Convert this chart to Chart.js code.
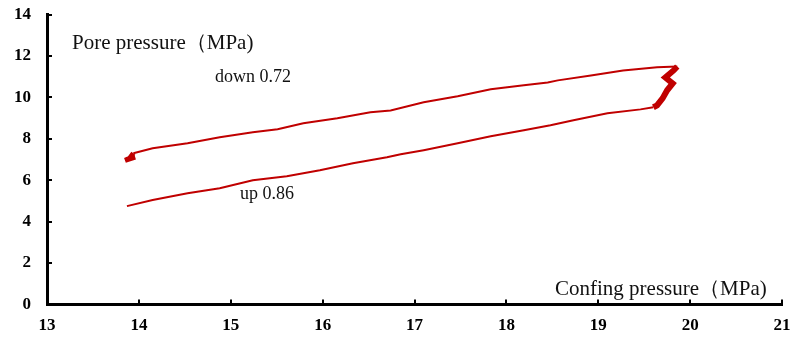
<!DOCTYPE html>
<html>
<head>
<meta charset="utf-8">
<script src="https://cdn.jsdelivr.net/npm/chart.js@4/dist/chart.umd.min.js"></script>
<style>
  html, body { margin: 0; padding: 0; background: #fff; }
  #wrap { width: 793px; height: 338px; }
</style>
</head>
<body>
<div id="wrap"><canvas id="c" width="793" height="338"></canvas></div>
<script>
// loading branch (up)
const upX = [13.87, 14.15, 14.53, 14.88, 15.24, 15.61, 15.97, 16.33, 16.70, 16.85, 17.10, 17.47, 17.83, 18.19, 18.48, 18.73, 19.10, 19.46, 19.60];
const upY = [4.75, 5.04, 5.37, 5.61, 6.00, 6.19, 6.48, 6.82, 7.11, 7.25, 7.45, 7.78, 8.12, 8.41, 8.65, 8.89, 9.23, 9.42, 9.52];

// jagged turn at max confining pressure
const turnX = [19.60, 19.64, 19.70, 19.75, 19.81, 19.73, 19.82, 19.86];
const turnY = [9.52, 9.61, 9.95, 10.34, 10.67, 10.96, 11.30, 11.49];

// unloading branch (down)
const downX = [19.86, 19.64, 19.27, 18.92, 18.56, 18.45, 18.19, 17.83, 17.47, 17.10, 16.74, 16.52, 16.16, 15.79, 15.51, 15.24, 14.88, 14.53, 14.15, 13.94];
const downY = [11.49, 11.45, 11.30, 11.06, 10.82, 10.72, 10.58, 10.39, 10.05, 9.76, 9.37, 9.28, 8.99, 8.75, 8.46, 8.31, 8.07, 7.78, 7.54, 7.30];

// small blob at the end of unloading
const endX = [13.94, 13.90, 13.85, 13.96];
const endY = [7.30, 7.06, 6.96, 7.11];

const xTicks = [13, 14, 15, 16, 17, 18, 19, 20, 21];
const yTicks = [0, 2, 4, 6, 8, 10, 12, 14];

const RED = '#c00000';
const SERIF = '"Liberation Serif", "Times New Roman", serif';
const pts = (xs, ys) => xs.map((x, i) => ({ x, y: ys[i] }));

function lineSet(data, w) {
  return {
    data,
    showLine: true,
    borderColor: RED,
    backgroundColor: RED,
    borderWidth: w,
    pointRadius: 0,
    tension: 0
  };
}

/* inward tick marks + texts */
const decor = {
  id: 'decor',
  afterDraw(chart) {
    const ctx = chart.ctx;
    const xs = chart.scales.x, ys = chart.scales.y;
    const area = chart.chartArea;
    ctx.save();
    ctx.strokeStyle = '#000';
    ctx.lineWidth = 2;
    xTicks.forEach(v => {
      const px = Math.round(xs.getPixelForValue(v));
      ctx.beginPath();
      ctx.moveTo(px, area.bottom);
      ctx.lineTo(px, area.bottom - 5);
      ctx.stroke();
    });
    yTicks.forEach(v => {
      const py = Math.round(ys.getPixelForValue(v));
      ctx.beginPath();
      ctx.moveTo(area.left, py);
      ctx.lineTo(area.left + 5, py);
      ctx.stroke();
    });

    ctx.fillStyle = '#111';
    ctx.textBaseline = 'middle';
    ctx.textAlign = 'left';
    ctx.font = '21px ' + SERIF;
    ctx.fillText('Pore pressure（MPa)', 72, 43);
    ctx.fillText('Confing pressure（MPa)', 555, 289);
    ctx.font = '18px ' + SERIF;
    ctx.fillText('down 0.72', 215, 77);
    ctx.fillText('up 0.86', 240, 194);
    ctx.restore();
  }
};

new Chart(document.getElementById('c'), {
  type: 'scatter',
  data: {
    datasets: [
      lineSet(pts(upX, upY), 2),
      lineSet(pts(turnX, turnY), 6),
      lineSet(pts(downX, downY), 2),
      lineSet(pts(endX, endY), 5)
    ]
  },
  options: {
    responsive: false,
    animation: false,
    layout: { padding: { left: 0, right: 11, top: 14.5, bottom: 0 } },
    plugins: { legend: { display: false }, tooltip: { enabled: false } },
    scales: {
      x: {
        type: 'linear',
        min: 13, max: 21,
        afterBuildTicks: s => { s.ticks = xTicks.map(v => ({ value: v })); },
        afterFit: s => { s.height = 33.5; s.paddingLeft = 0; s.paddingRight = 0; },
        grid: { display: false, drawTicks: false },
        border: { display: true, color: '#000', width: 3 },
        ticks: {
          padding: 11,
          color: '#000',
          font: { family: SERIF, size: 17, weight: 'bold' }
        }
      },
      y: {
        type: 'linear',
        min: 0, max: 14,
        afterBuildTicks: s => { s.ticks = yTicks.map(v => ({ value: v })); },
        afterFit: s => { s.width = 47; s.paddingTop = 0; s.paddingBottom = 0; },
        grid: { display: false, drawTicks: false },
        border: { display: true, color: '#000', width: 3 },
        ticks: {
          padding: 16,
          color: '#000',
          font: { family: SERIF, size: 17, weight: 'bold' }
        }
      }
    }
  },
  plugins: [decor]
});
</script>
</body>
</html>
